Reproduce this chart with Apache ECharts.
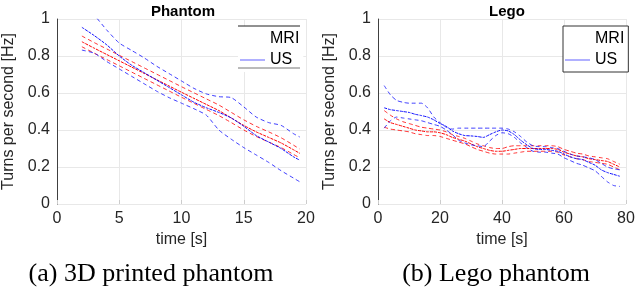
<!DOCTYPE html>
<html><head><meta charset="utf-8">
<script src="https://cdn.jsdelivr.net/npm/echarts@6/dist/echarts.min.js"></script>
<style>html,body{margin:0;padding:0;background:#fff}#c{width:640px;height:289px}</style>
</head><body><div id="c"></div>
<script>
// Panel (a): 3D printed phantom
const timeA = [2,3,4,5,6,7,8,9,10,11,12,13,14,15,16,17,18,19,19.5];
const mriMeanA = [0.877,0.842,0.808,0.774,0.740,0.706,0.672,0.638,0.604,0.571,0.538,0.505,0.465,0.425,0.390,0.360,0.330,0.293,0.274];
const mriUpperA = [0.908,0.872,0.838,0.804,0.770,0.736,0.702,0.668,0.634,0.601,0.568,0.535,0.495,0.455,0.420,0.390,0.358,0.318,0.297];
const mriLowerA = [0.850,0.815,0.781,0.747,0.713,0.679,0.645,0.611,0.577,0.544,0.511,0.478,0.440,0.400,0.365,0.335,0.305,0.268,0.250];
const usMeanA = [0.955,0.910,0.860,0.800,0.750,0.710,0.670,0.630,0.590,0.550,0.520,0.495,0.465,0.420,0.370,0.335,0.300,0.255,0.237];
const usUpperA = [1.080,1.020,0.940,0.870,0.830,0.790,0.745,0.705,0.665,0.625,0.595,0.580,0.575,0.525,0.470,0.440,0.425,0.380,0.362];
const usLowerA = [0.832,0.815,0.770,0.730,0.690,0.650,0.610,0.575,0.545,0.515,0.480,0.400,0.350,0.305,0.265,0.225,0.180,0.140,0.120];

// Panel (b): Lego phantom
const timeB = [2,4,6,8,10,12,14,16,18,20,22,24,26,28,30,32,34,36,38,40,42,44,46,48,50,52,54,56,58,60,62,64,66,68,70,72,74,76,78];
const mriMeanB = [0.460,0.440,0.430,0.420,0.410,0.400,0.395,0.390,0.390,0.385,0.375,0.360,0.350,0.340,0.325,0.310,0.300,0.290,0.285,0.285,0.290,0.295,0.300,0.300,0.300,0.300,0.300,0.300,0.295,0.280,0.270,0.260,0.255,0.245,0.240,0.235,0.230,0.215,0.200];
const mriUpperB = [0.505,0.480,0.460,0.445,0.435,0.425,0.415,0.410,0.405,0.400,0.390,0.375,0.365,0.355,0.340,0.325,0.315,0.305,0.300,0.300,0.310,0.315,0.315,0.315,0.315,0.315,0.315,0.315,0.310,0.295,0.285,0.275,0.270,0.260,0.255,0.250,0.245,0.230,0.215];
const mriLowerB = [0.415,0.405,0.400,0.395,0.390,0.380,0.375,0.370,0.370,0.365,0.355,0.345,0.335,0.325,0.310,0.295,0.285,0.275,0.270,0.270,0.270,0.275,0.280,0.285,0.285,0.285,0.285,0.285,0.280,0.265,0.255,0.245,0.240,0.230,0.225,0.220,0.215,0.200,0.185];
const usMeanB = [0.520,0.510,0.505,0.500,0.495,0.485,0.478,0.470,0.455,0.435,0.420,0.395,0.380,0.370,0.368,0.365,0.360,0.375,0.390,0.400,0.395,0.375,0.345,0.320,0.300,0.295,0.295,0.290,0.285,0.270,0.255,0.245,0.240,0.225,0.210,0.185,0.170,0.160,0.150];
const usUpperB = [0.640,0.590,0.560,0.550,0.545,0.545,0.545,0.520,0.470,0.440,0.415,0.405,0.410,0.410,0.410,0.410,0.410,0.410,0.410,0.410,0.405,0.390,0.365,0.335,0.315,0.310,0.310,0.305,0.300,0.285,0.270,0.260,0.255,0.250,0.240,0.220,0.200,0.190,0.185];
const usLowerB = [0.410,0.450,0.470,0.465,0.460,0.455,0.450,0.440,0.430,0.420,0.400,0.375,0.345,0.330,0.320,0.315,0.310,0.340,0.370,0.385,0.380,0.360,0.330,0.305,0.285,0.280,0.280,0.275,0.270,0.250,0.235,0.220,0.210,0.195,0.180,0.150,0.120,0.100,0.095];

const yTicks = {min:0, max:1, interval:0.2};
const xTicksA = {min:0, max:20, interval:5};
const xTicksB = {min:0, max:80, interval:20};

const titles = ['Phantom','Lego'];
const captions = ['(a) 3D printed phantom','(b) Lego phantom'];
const legendNames = ['MRI','US'];
const yName = 'Turns per second [Hz]';
const xName = 'time [s]';

const RED = '#ff0000', BLUE = '#1010ff';
const FONT = 'Liberation Sans';
const pair = (t, v) => t.map((x,i)=>[x, v[i]]);

function xAxisFor(idx, ticks){
  return {gridIndex: idx, type:'value', min:ticks.min, max:ticks.max, interval:ticks.interval,
    name: xName, nameLocation:'middle', nameGap:28,
    nameTextStyle:{fontFamily:FONT, fontSize:16, color:'#262626'},
    axisLine:{show:false}, axisTick:{show:true, inside:true, length:4, lineStyle:{color:'#cccccc'}},
    axisLabel:{fontFamily:FONT, fontSize:16, color:'#262626', margin:7},
    splitLine:{show:true, lineStyle:{color:'#e8e8e8', width:1}}};
}
function yAxisFor(idx){
  return {gridIndex: idx, type:'value', min:yTicks.min, max:yTicks.max, interval:yTicks.interval,
    name: yName, nameLocation:'middle', nameGap:40,
    nameTextStyle:{fontFamily:FONT, fontSize:16, color:'#262626'},
    axisLine:{show:true, lineStyle:{color:'#404040', width:1}},
    axisTick:{show:false},
    axisLabel:{fontFamily:FONT, fontSize:16, color:'#262626', margin:7},
    splitLine:{show:true, lineStyle:{color:'#e8e8e8', width:1}}};
}
function seriesFor(idx, t, mm, mu, ml, um, uu, ul){
  const base = {type:'line', xAxisIndex:idx, yAxisIndex:idx, symbol:'none', smooth:0.2, clip:true, silent:true};
  const dashStd = [4,3];
  return [
    Object.assign({}, base, {name:'MRI', data:pair(t,mm), lineStyle:{color:RED, width:1, type:[3,1]}, itemStyle:{color:RED}}),
    Object.assign({}, base, {name:'MRI std+', data:pair(t,mu), lineStyle:{color:RED, width:1, type:dashStd, opacity:0.8}, itemStyle:{color:RED}}),
    Object.assign({}, base, {name:'MRI std-', data:pair(t,ml), lineStyle:{color:RED, width:1, type:dashStd, opacity:0.8}, itemStyle:{color:RED}}),
    Object.assign({}, base, {name:'US', data:pair(t,um), lineStyle:{color:BLUE, width:1, type:[3,1]}, itemStyle:{color:BLUE}}),
    Object.assign({}, base, {name:'US std+', data:pair(t,uu), lineStyle:{color:BLUE, width:1, type:dashStd, opacity:0.8}, itemStyle:{color:BLUE}}),
    Object.assign({}, base, {name:'US std-', data:pair(t,ul), lineStyle:{color:BLUE, width:1, type:dashStd, opacity:0.8}, itemStyle:{color:BLUE}})
  ];
}
function legendFor(left, withBorder){
  return {orient:'vertical', left:left, top:26, itemWidth:25, itemHeight:14, itemGap:5,
    padding:[5,4,4,2], borderColor:'#333', borderWidth: withBorder?1:0, backgroundColor:'#fff',
    textStyle:{fontFamily:FONT, fontSize:16, color:'#000'}, selectedMode:false,
    data:[{name:legendNames[0], icon:'path://M0,0 L25,0 L25,1 L0,1 Z', itemStyle:{color:'rgba(0,0,0,0)', opacity:0}, lineStyle:{opacity:0}},
          {name:legendNames[1], icon:'path://M0,0 L25,0 L25,1 L0,1 Z', itemStyle:{color:'#6060ff'}}]};
}

const chart = echarts.init(document.getElementById('c'), null, {renderer:'canvas'});
chart.setOption({
  animation:false,
  backgroundColor:'#fff',
  title:[
    {text:titles[0], left:178, top:-1, textAlign:'center', textStyle:{fontFamily:FONT, fontSize:15, fontWeight:'bold', color:'#000'}},
    {text:titles[1], left:502, top:-1, textAlign:'center', textStyle:{fontFamily:FONT, fontSize:15, fontWeight:'bold', color:'#000'}},
    {text:captions[0], left:146, top:256, textAlign:'center', textStyle:{fontFamily:'Liberation Serif', fontSize:26, fontWeight:'normal', color:'#000'}},
    {text:captions[1], left:491, top:256, textAlign:'center', textStyle:{fontFamily:'Liberation Serif', fontSize:26, fontWeight:'normal', color:'#000'}}
  ],
  grid:[
    {left:51, top:19, width:255, height:185},
    {left:378, top:19, width:248, height:185}
  ],
  xAxis:[xAxisFor(0, xTicksA), xAxisFor(1, xTicksB)],
  yAxis:[yAxisFor(0), yAxisFor(1)],
  legend:[legendFor(238, false), legendFor(563, true)],
  graphic:[
    {type:'line', shape:{x1:238, y1:26, x2:300, y2:26}, style:{stroke:'#222', lineWidth:1}, z:100},
    {type:'line', shape:{x1:238, y1:68, x2:300, y2:68}, style:{stroke:'#777', lineWidth:1}, z:100}
  ],
  series:[].concat(
    seriesFor(0, timeA, mriMeanA, mriUpperA, mriLowerA, usMeanA, usUpperA, usLowerA),
    seriesFor(1, timeB, mriMeanB, mriUpperB, mriLowerB, usMeanB, usUpperB, usLowerB)
  )
});
</script></body></html>
